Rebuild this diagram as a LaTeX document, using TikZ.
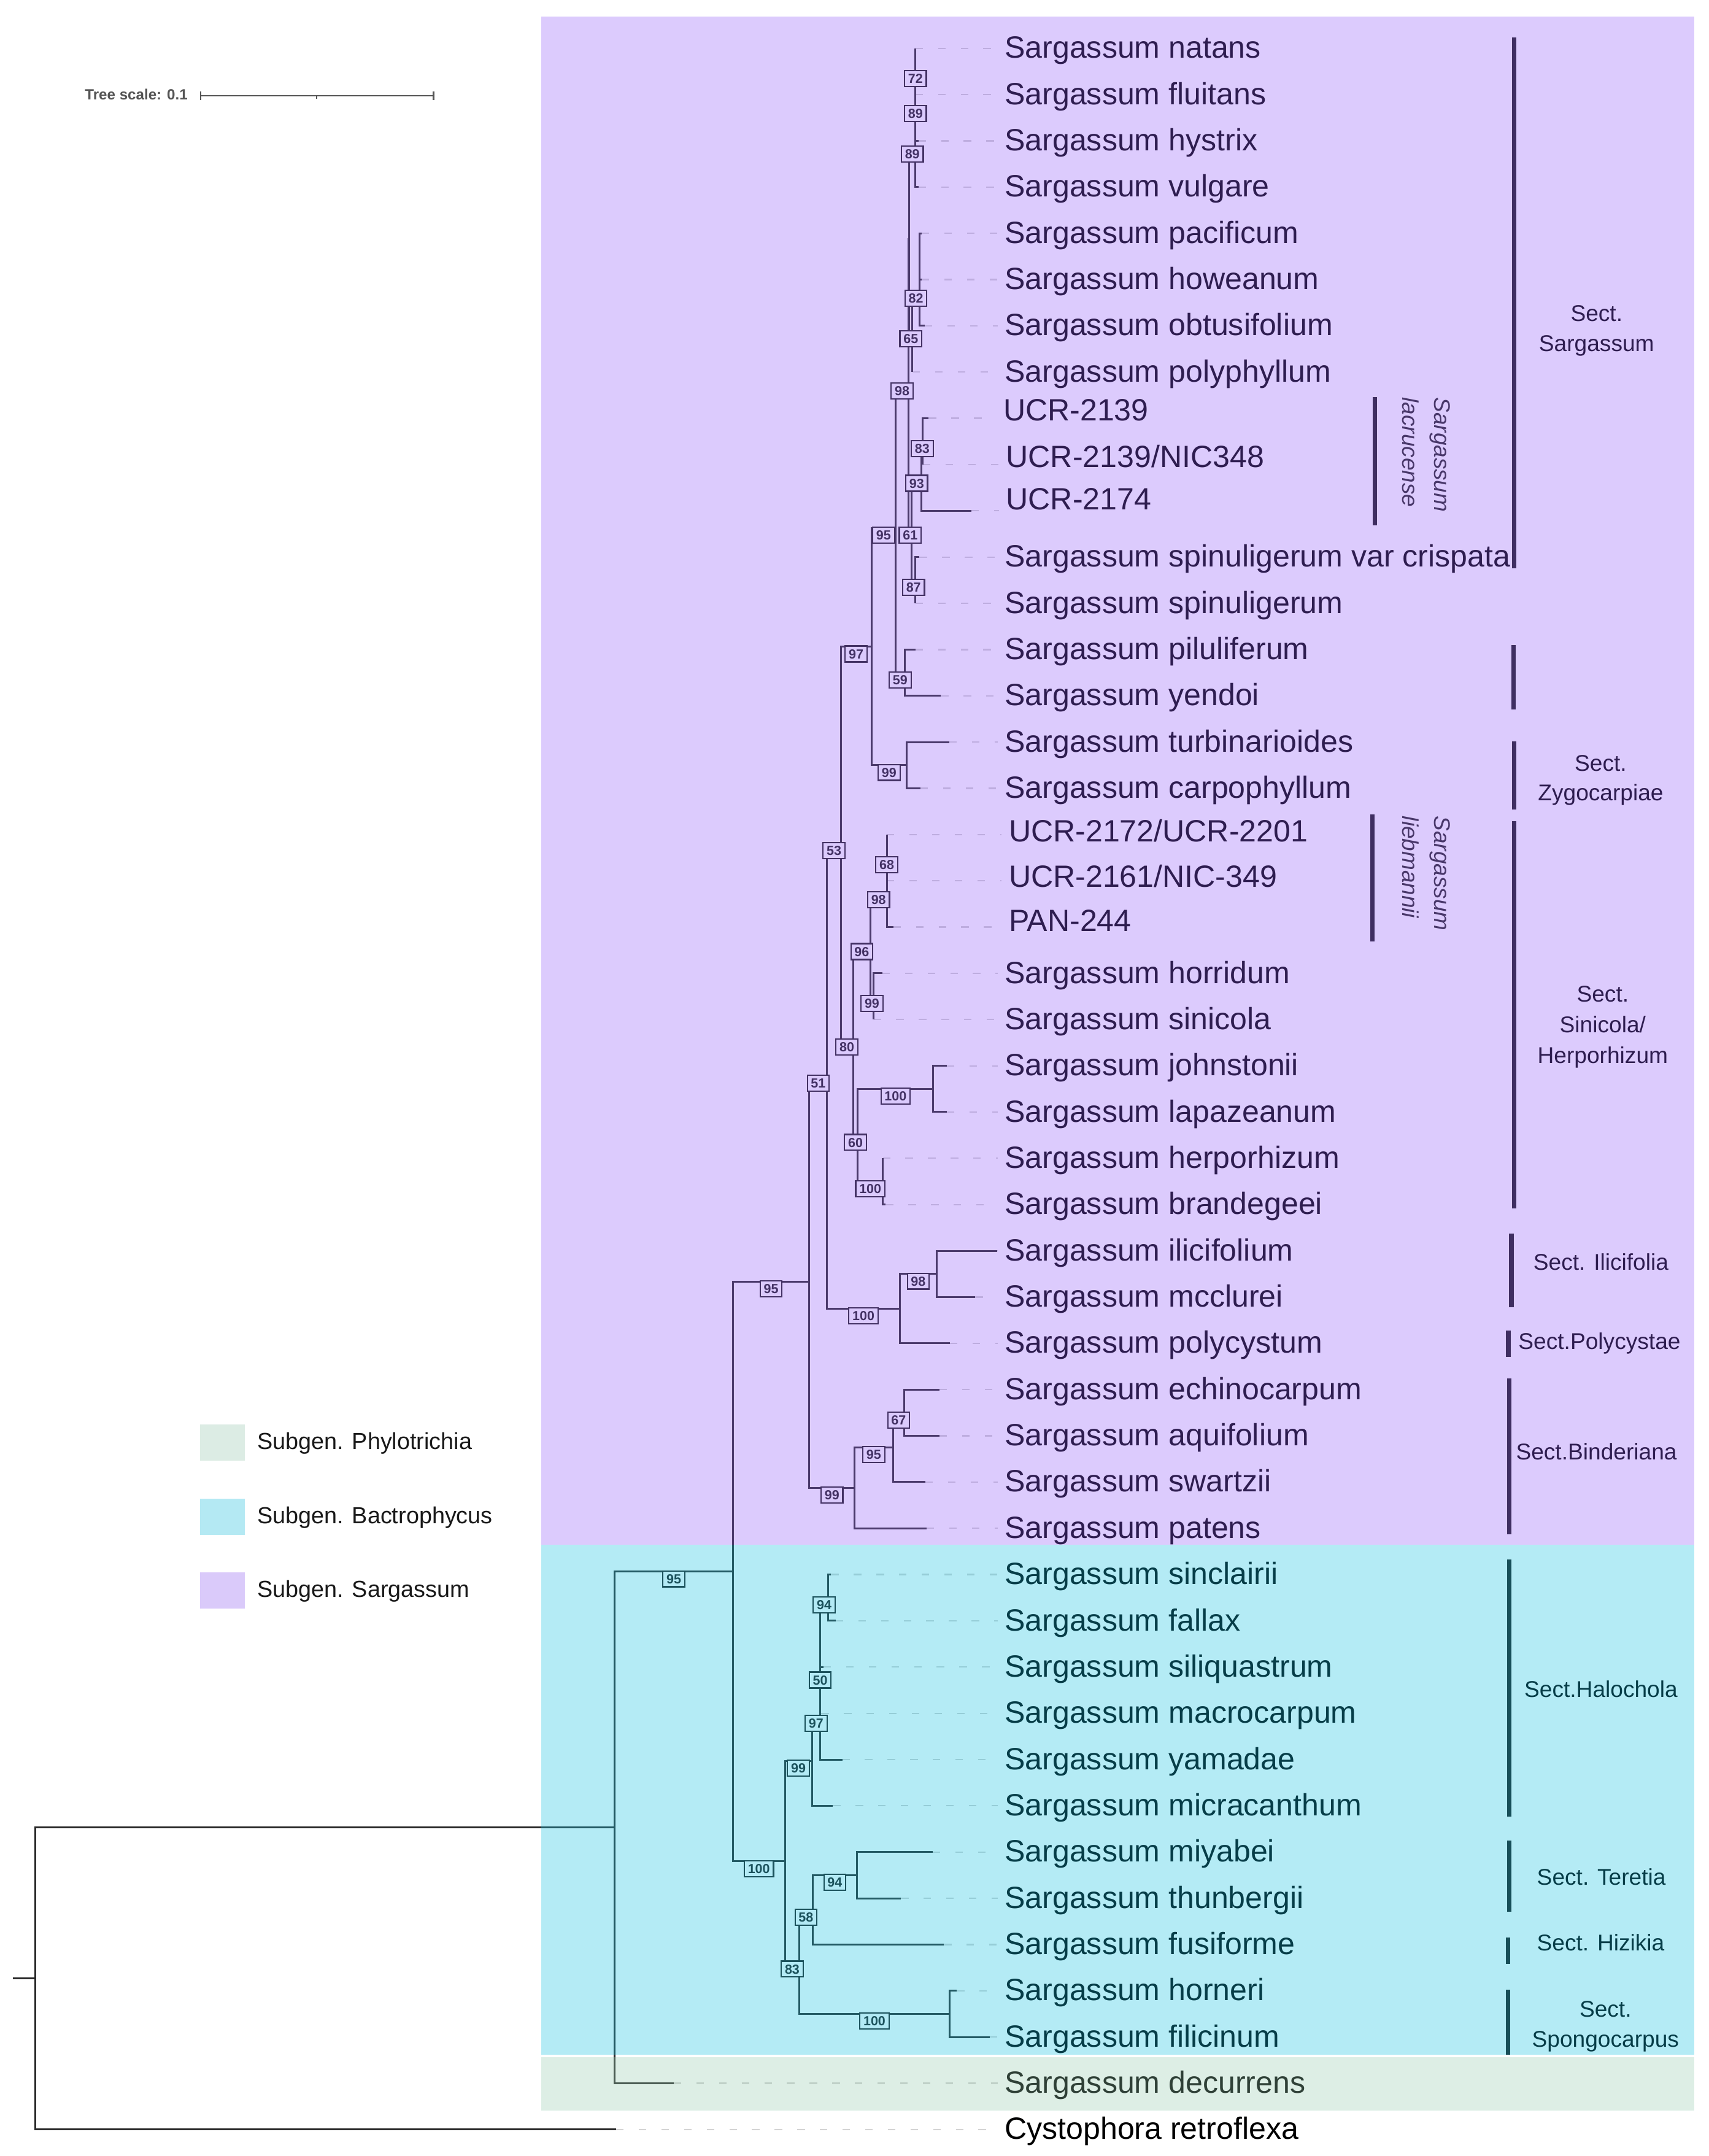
\documentclass[tikz,border=0pt]{standalone}
\usepackage{fontspec}
\setmainfont{Liberation Sans}
\usetikzlibrary{calc}
\pgfdeclarelayer{fg}
\pgfdeclarelayer{ov}
\pgfsetlayers{main,fg,ov}
\definecolor{linec}{HTML}{2A2A2A}
\definecolor{bootc}{HTML}{1E1E1E}
\definecolor{leadc}{RGB}{212,212,212}
\definecolor{ovP}{RGB}{146,92,249}
\definecolor{ovC}{RGB}{21,192,224}
\definecolor{ovG}{RGB}{149,202,174}
\definecolor{lgP}{RGB}{218,202,250}
\definecolor{lgC}{RGB}{180,233,243}
\definecolor{lgG}{RGB}{220,236,228}
\definecolor{scalec}{HTML}{555555}
\tikzset{
 branch/.style={draw=linec, line width=1.35pt},
 boot/.style={draw=bootc, fill=white, line width=0.95pt, font=\fontsize{9.6}{10}\selectfont\bfseries, text=bootc, inner xsep=2.6pt, inner ysep=2.4pt, text height=6.8pt, text depth=0pt, anchor=north, yshift=1pt},
 tiplab/.style={anchor=base west, inner sep=0pt, font=\fontsize{22.4}{26}\selectfont, text=black},
 lead/.style={draw=leadc, line width=1pt, dash pattern=on 5.5pt off 11pt},
 secbar/.style={draw=black!90, line width=3.3pt},
 seclab/.style={anchor=base, inner sep=0pt, font=\fontsize{16.6}{21.8}\selectfont, text=black},
 speclab/.style={anchor=base west, inner sep=0pt, rotate=-90, font=\fontsize{16.5}{23.4}\selectfont\itshape, text=black!85},
 leglab/.style={anchor=base west, inner sep=0pt, font=\fontsize{16.9}{20}\selectfont, text=black!90},
 legsq/.style={draw=none, minimum width=32.5pt, minimum height=26.5pt, inner sep=0pt},
 scalebar/.style={draw=scalec, line width=1.2pt},
}
\newcommand\tipleafat[6]{%
 \coordinate (#1) at (#2,#3);
 \node[tiplab] (#1t) at (#4,#5) {#6};
 \draw[lead] (#1) -- ([xshift=-5pt]#1t.base west |- #1);
}
\newcommand\tipleaf[4]{\tipleafat{#1}{#2}{#3}{732}{#3+7.2}{#4}}
\newcommand\tedge[3]{%
 \draw[branch] (#1) |- (#2);
 \if\relax\detokenize{#3}\relax\else
 \begin{pgfonlayer}{fg}\path (#1) |- (#2) node[pos=.75,boot] (b-#2) {#3};\end{pgfonlayer}\fi
}
\begin{document}
\begin{tikzpicture}[x=1pt,y=-1pt]
\useasboundingbox (0,0) rectangle (1245,1571);

% ---------- internal nodes ----------
\coordinate (Rs) at (9.6,1441.65);
\coordinate (R) at (25.7,1441.65);
\coordinate (G) at (448,1331.6);
\coordinate (n95a) at (534.1,1145.15);
\coordinate (nSarg) at (589.8,934.0);
\coordinate (n51) at (602.8,783.95);
\coordinate (n53) at (612.7,614.4);
\coordinate (n97) at (635.1,471.2);
\coordinate (n95) at (652.7,384.8);
\coordinate (n98) at (662.2,279.5);
\coordinate (nA) at (662.6,174.2);
\coordinate (n89b) at (667.1,106.8);
\coordinate (n89a) at (667.1,77.3);
\coordinate (n72) at (667.1,52.05);
\coordinate (n65) at (664.9,241.6);
\coordinate (n82) at (670.1,212.1);
\coordinate (n56) at (670.1,186.85);
\coordinate (n61) at (664.4,384.8);
\coordinate (n93) at (671.6,346.9);
\coordinate (n83) at (672.5,321.65);
\coordinate (n87) at (667.1,422.75);
\coordinate (n59) at (659.2,490.15);
\coordinate (n99z) at (660.8,557.55);
\coordinate (n80) at (621.7,757.6);
\coordinate (n96) at (634.3,688.1);
\coordinate (n98l) at (646.2,650.2);
\coordinate (n68) at (646.2,624.95);
\coordinate (n99s) at (636.6,726.05);
\coordinate (n60) at (625.1,827.15);
\coordinate (n100j) at (680.1,793.45);
\coordinate (n100h) at (643.3,860.85);
\coordinate (n100i) at (655.7,953.5);
\coordinate (n98i) at (682.6,928.25);
\coordinate (n99b) at (622.8,1084.1);
\coordinate (n95b) at (650.7,1054.6);
\coordinate (n67) at (659,1029.35);
\coordinate (nBac) at (572,1356.3);
\coordinate (n99h) at (591.7,1283.15);
\coordinate (n97h) at (597.7,1250.5);
\coordinate (n50) at (597.7,1218.9);
\coordinate (nSil) at (597.7,1189.4);
\coordinate (n94) at (603.5,1164.15);
\coordinate (n83h) at (582.6,1429.5);
\coordinate (n58) at (592.1,1391.6);
\coordinate (n94t) at (624.6,1366.35);
\coordinate (n100s) at (691.9,1467.45);

% ---------- leaves ----------
\tipleaf{L1}{667.1}{35.2}{Sargassum natans}
\tipleaf{L2}{667.1}{68.9}{Sargassum fluitans}
\tipleaf{L3}{669.3}{102.6}{Sargassum hystrix}
\tipleaf{L4}{669.3}{136.3}{Sargassum vulgare}
\tipleaf{L5}{671.6}{170.0}{Sargassum pacificum}
\tipleaf{L6}{671.6}{203.7}{Sargassum howeanum}
\tipleaf{L7}{674}{237.4}{Sargassum obtusifolium}
\tipleaf{L8}{664.9}{271.1}{Sargassum polyphyllum}
\tipleafat{L9}{676.8}{304.8}{731}{306.5}{UCR-2139}
\tipleafat{L10}{672.5}{338.5}{733}{340.5}{UCR-2139/NIC348}
\tipleafat{L11}{707.8}{372.2}{733}{371.5}{UCR-2174}
\tipleaf{L12}{670.1}{405.9}{Sargassum spinuligerum var crispata}
\tipleaf{L13}{667.1}{439.6}{Sargassum spinuligerum}
\tipleaf{L14}{667.1}{473.3}{Sargassum piluliferum}
\tipleaf{L15}{685.7}{507.0}{Sargassum yendoi}
\tipleaf{L16}{691.7}{540.7}{Sargassum turbinarioides}
\tipleaf{L17}{670.8}{574.4}{Sargassum carpophyllum}
\tipleafat{L18}{646.2}{608.1}{735}{613.5}{UCR-2172/UCR-2201}
\tipleafat{L19}{646.2}{641.8}{735}{646.5}{UCR-2161/NIC-349}
\tipleafat{L20}{651}{675.5}{735}{678.5}{PAN-244}
\tipleaf{L21}{643}{709.2}{Sargassum horridum}
\tipleaf{L22}{636.6}{742.9}{Sargassum sinicola}
\tipleaf{L23}{690}{776.6}{Sargassum johnstonii}
\tipleaf{L24}{690}{810.3}{Sargassum lapazeanum}
\tipleaf{L25}{643.3}{844.0}{Sargassum herporhizum}
\tipleaf{L26}{645.5}{877.7}{Sargassum brandegeei}
\tipleaf{L27}{726.6}{911.4}{Sargassum ilicifolium}
\tipleaf{L28}{710.8}{945.1}{Sargassum mcclurei}
\tipleaf{L29}{692.3}{978.8}{Sargassum polycystum}
\tipleaf{L30}{684.6}{1012.5}{Sargassum echinocarpum}
\tipleaf{L31}{684.6}{1046.2}{Sargassum aquifolium}
\tipleaf{L32}{674.3}{1079.9}{Sargassum swartzii}
\tipleaf{L33}{675.2}{1113.6}{Sargassum patens}
\tipleaf{L34}{605.7}{1147.3}{Sargassum sinclairii}
\tipleaf{L35}{609}{1181.0}{Sargassum fallax}
\tipleaf{L36}{600.1}{1214.7}{Sargassum siliquastrum}
\tipleaf{L37}{598.5}{1248.4}{Sargassum macrocarpum}
\tipleaf{L38}{613.8}{1282.1}{Sargassum yamadae}
\tipleaf{L39}{607}{1315.8}{Sargassum micracanthum}
\tipleaf{L40}{679.7}{1349.5}{Sargassum miyabei}
\tipleaf{L41}{656.6}{1383.2}{Sargassum thunbergii}
\tipleaf{L42}{687.9}{1416.9}{Sargassum fusiforme}
\tipleaf{L43}{697.3}{1450.6}{Sargassum horneri}
\tipleaf{L44}{721.3}{1484.3}{Sargassum filicinum}
\tipleaf{L45}{491}{1518.0}{Sargassum decurrens}
\tipleaf{L46}{449}{1551.7}{Cystophora retroflexa}

% ---------- branches ----------
\draw[branch] (Rs) -- (R);
\tedge{R}{G}{}
\tedge{R}{L46}{}
\tedge{G}{n95a}{95}
\tedge{G}{L45}{}
\tedge{n95a}{nSarg}{95}
\tedge{n95a}{nBac}{100}
\tedge{nSarg}{n51}{51}
\tedge{nSarg}{n99b}{99}
\tedge{n51}{n53}{53}
\tedge{n51}{n100i}{100}
\tedge{n53}{n97}{97}
\tedge{n53}{n80}{80}
\tedge{n97}{n95}{95}
\tedge{n97}{n99z}{99}
\tedge{n95}{n98}{98}
\tedge{n95}{n59}{59}
\tedge{n98}{nA}{}
\tedge{n98}{n61}{61}
\tedge{nA}{n89b}{89}
\tedge{nA}{n65}{65}
\tedge{n89b}{n89a}{89}
\tedge{n89b}{L4}{}
\tedge{n89a}{n72}{72}
\tedge{n89a}{L3}{}
\tedge{n72}{L1}{}
\tedge{n72}{L2}{}
\tedge{n65}{n82}{82}
\tedge{n65}{L8}{}
\tedge{n82}{n56}{}
\tedge{n82}{L7}{}
\tedge{n56}{L5}{}
\tedge{n56}{L6}{}
\tedge{n61}{n93}{93}
\tedge{n61}{n87}{87}
\tedge{n93}{n83}{83}
\tedge{n93}{L11}{}
\tedge{n83}{L9}{}
\tedge{n83}{L10}{}
\tedge{n87}{L12}{}
\tedge{n87}{L13}{}
\tedge{n59}{L14}{}
\tedge{n59}{L15}{}
\tedge{n99z}{L16}{}
\tedge{n99z}{L17}{}
\tedge{n80}{n96}{96}
\tedge{n80}{n60}{60}
\tedge{n96}{n98l}{98}
\tedge{n96}{n99s}{99}
\tedge{n98l}{n68}{68}
\tedge{n98l}{L20}{}
\tedge{n68}{L18}{}
\tedge{n68}{L19}{}
\tedge{n99s}{L21}{}
\tedge{n99s}{L22}{}
\tedge{n60}{n100j}{100}
\tedge{n60}{n100h}{100}
\tedge{n100j}{L23}{}
\tedge{n100j}{L24}{}
\tedge{n100h}{L25}{}
\tedge{n100h}{L26}{}
\tedge{n100i}{n98i}{98}
\tedge{n100i}{L29}{}
\tedge{n98i}{L27}{}
\tedge{n98i}{L28}{}
\tedge{n99b}{n95b}{95}
\tedge{n99b}{L33}{}
\tedge{n95b}{n67}{67}
\tedge{n95b}{L32}{}
\tedge{n67}{L30}{}
\tedge{n67}{L31}{}
\tedge{nBac}{n99h}{99}
\tedge{nBac}{n83h}{83}
\tedge{n99h}{n97h}{97}
\tedge{n99h}{L39}{}
\tedge{n97h}{n50}{50}
\tedge{n97h}{L38}{}
\tedge{n50}{nSil}{}
\tedge{n50}{L37}{}
\tedge{nSil}{n94}{94}
\tedge{nSil}{L36}{}
\tedge{n94}{L34}{}
\tedge{n94}{L35}{}
\tedge{n83h}{n58}{58}
\tedge{n83h}{n100s}{100}
\tedge{n58}{n94t}{94}
\tedge{n58}{L42}{}
\tedge{n94t}{L40}{}
\tedge{n94t}{L41}{}
\tedge{n100s}{L43}{}
\tedge{n100s}{L44}{}

% ---------- section bars and labels ----------
\coordinate (sa1) at (1103.5,27.5);  \coordinate (sa2) at (1103.5,414);
\coordinate (la1) at (1001.9,289.4); \coordinate (la2) at (1001.9,383);
\coordinate (pi1) at (1103,470);     \coordinate (pi2) at (1103,517);
\coordinate (zy1) at (1103.5,540);   \coordinate (zy2) at (1103.5,589.8);
\coordinate (li1) at (1000.2,593.6); \coordinate (li2) at (1000.2,686.1);
\coordinate (si1) at (1103.5,598.3); \coordinate (si2) at (1103.5,880.6);
\coordinate (il1) at (1101.5,898.8); \coordinate (il2) at (1101.5,952.7);
\coordinate (po1) at (1099.2,969.4); \coordinate (po2) at (1099.2,988.8);
\coordinate (bi1) at (1100,1004.5);  \coordinate (bi2) at (1100,1117.8);
\coordinate (ha1) at (1100,1136.3);  \coordinate (ha2) at (1100,1323.9);
\coordinate (te1) at (1100,1341.2);  \coordinate (te2) at (1100,1393);
\coordinate (hi1) at (1099,1411.7);  \coordinate (hi2) at (1099,1431.2);
\coordinate (sp1) at (1099,1450);    \coordinate (sp2) at (1099,1497);
\foreach \a in {sa,la,pi,zy,li,si,il,po,bi,ha,te,hi,sp}{\draw[secbar] (\a1) -- (\a2);}

\node[seclab] (saT) at (1163.5,234.2) {\begin{tabular}[t]{@{}c@{}}Sect.\\Sargassum\end{tabular}};
\node[seclab] (zyT) at (1166.5,561.7) {\begin{tabular}[t]{@{}c@{}}Sect.\\Zygocarpiae\end{tabular}};
\node[seclab, font=\fontsize{16.6}{22.4}\selectfont] (siT) at (1168,730) {\begin{tabular}[t]{@{}c@{}}Sect.\\Sinicola/\\Herporhizum\end{tabular}};
\node[seclab] (ilT) at (1166.7,925.5) {Sect. Ilicifolia};
\node[seclab] (poT) at (1165.6,983.2) {Sect.Polycystae};
\node[seclab] (biT) at (1163.4,1063.5) {Sect.Binderiana};
\node[seclab] (haT) at (1166.7,1236.7) {Sect.Halochola};
\node[seclab] (teT) at (1167,1373.5) {Sect. Teretia};
\node[seclab] (hiT) at (1166.5,1421.2) {Sect. Hizikia};
\node[seclab, font=\fontsize{16.6}{22}\selectfont] (spT) at (1170,1469.8) {\begin{tabular}[t]{@{}c@{}}Sect.\\Spongocarpus\end{tabular}};

\node[speclab] (laT) at (1045.5,289.4) {\begin{tabular}[t]{@{}l@{}}Sargassum\\lacrucense\end{tabular}};
\node[speclab] (liT) at (1045.5,594.5) {\begin{tabular}[t]{@{}l@{}}Sargassum\\liebmannii\end{tabular}};

% ---------- tree scale ----------
\node[anchor=base west, inner sep=0pt, font=\fontsize{10.8}{12}\selectfont\bfseries, text=scalec] (tsl) at (61.7,72.7) {Tree scale: 0.1};
\coordinate (sA) at (146.2,69.8);
\coordinate (sB) at (315.9,69.8);
\coordinate (sM) at (230.8,69.8);
\draw[scalebar] (sA) -- (sB);
\draw[scalebar] ([yshift=3.2pt]sA) -- ([yshift=-3.2pt]sA);
\draw[scalebar] ([yshift=3.2pt]sB) -- ([yshift=-3.2pt]sB);
\draw[scalebar, line width=0.8pt] (sM) -- ([yshift=-2.2pt]sM);

% ---------- legend ----------
\node[legsq, fill=lgG] (lg1) at (162,1051.2) {};
\node[legsq, fill=lgC] (lg2) at (162,1105.2) {};
\node[legsq, fill=lgP] (lg3) at (162,1158.8) {};
\node[leglab] (lt1) at (187.2,1056.2) {Subgen. Phylotrichia};
\node[leglab] (lt2) at (187.2,1110.3) {Subgen. Bactrophycus};
\node[leglab] (lt3) at (187.2,1164) {Subgen. Sargassum};

% ---------- colored subgenus ranges (transparent overlay) ----------
\begin{pgfonlayer}{ov}
\fill[ovP, fill opacity=0.32] (394.5,12) rectangle (1234.6,1125.7);
\fill[ovC, fill opacity=0.32] (394.5,1125.7) rectangle (1234.6,1497.1);
\fill[ovG, fill opacity=0.32] (394.5,1499) rectangle (1234.6,1537.9);
\end{pgfonlayer}
\end{tikzpicture}
\end{document}
